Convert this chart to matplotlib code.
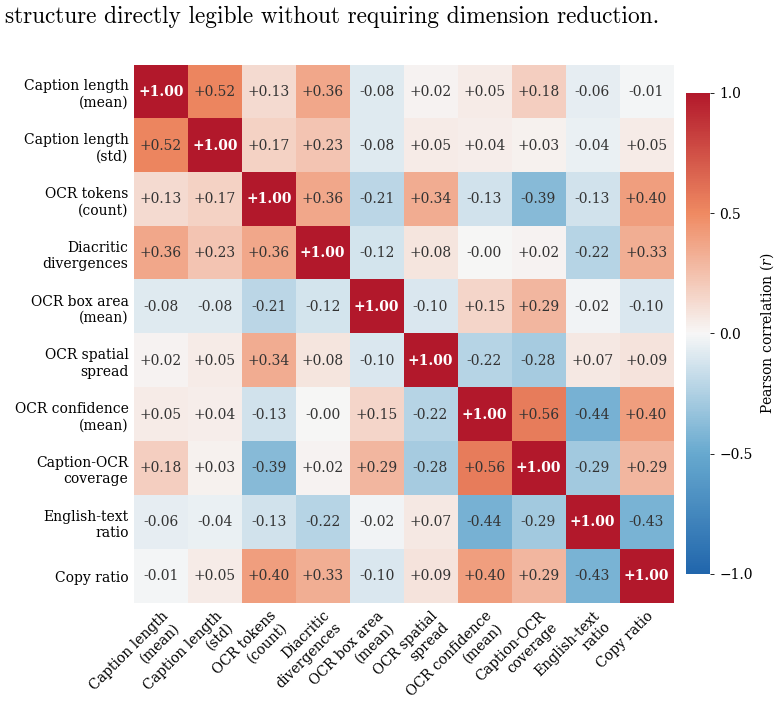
import numpy as np
import matplotlib
matplotlib.use('Agg')
import matplotlib.pyplot as plt
from matplotlib.colors import LinearSegmentedColormap

plt.rcParams['font.family'] = 'DejaVu Serif'
plt.rcParams['mathtext.fontset'] = 'dejavuserif'

#%% Datos
labels = ['Caption length\n(mean)', 'Caption length\n(std)', 'OCR tokens\n(count)',
          'Diacritic\ndivergences', 'OCR box area\n(mean)', 'OCR spatial\nspread',
          'OCR confidence\n(mean)', 'Caption-OCR\ncoverage', 'English-text\nratio', 'Copy ratio']

r0 = [1.00, 0.52, 0.13, 0.36, -0.08, 0.02, 0.05, 0.18, -0.06, -0.01]
r1 = [0.52, 1.00, 0.17, 0.23, -0.08, 0.05, 0.04, 0.03, -0.04, 0.05]
r2 = [0.13, 0.17, 1.00, 0.36, -0.21, 0.34, -0.13, -0.39, -0.13, 0.40]
r3 = [0.36, 0.23, 0.36, 1.00, -0.12, 0.08, -0.00, 0.02, -0.22, 0.33]
r4 = [-0.08, -0.08, -0.21, -0.12, 1.00, -0.10, 0.15, 0.29, -0.02, -0.10]
r5 = [0.02, 0.05, 0.34, 0.08, -0.10, 1.00, -0.22, -0.28, 0.07, 0.09]
r6 = [0.05, 0.04, -0.13, -0.00, 0.15, -0.22, 1.00, 0.56, -0.44, 0.40]
r7 = [0.18, 0.03, -0.39, 0.02, 0.29, -0.28, 0.56, 1.00, -0.29, 0.29]
r8 = [-0.06, -0.04, -0.13, -0.22, -0.02, 0.07, -0.44, -0.29, 1.00, -0.43]
r9 = [-0.01, 0.05, 0.40, 0.33, -0.10, 0.09, 0.40, 0.29, -0.43, 1.00]
corr = np.array([r0, r1, r2, r3, r4, r5, r6, r7, r8, r9])
n = len(labels)

# Mapa de colores divergente
cmap = LinearSegmentedColormap.from_list(
    'rdbu5', ['#2166ac', '#67a9cf', '#f7f7f7', '#ef8a62', '#b2182b'])

#%% Figura
fig = plt.figure(figsize=(7.77, 7.01), dpi=100)
ax = fig.add_axes([0.1725, 0.1398, 0.6937, 0.7675])
cax = fig.add_axes([0.8829, 0.1812, 0.0309, 0.6862])

im = ax.imshow(corr, cmap=cmap, vmin=-1, vmax=1, aspect='auto', interpolation='nearest')

for i in range(n):
    for j in range(n):
        txt = '{:+.2f}'.format(corr[i, j])
        if i == j:
            ax.text(j, i, txt, ha='center', va='center', color='white',
                    fontweight='bold', fontsize=10)
        else:
            ax.text(j, i, txt, ha='center', va='center', color='#333333', fontsize=10)

ax.set_xticks(np.arange(n))
ax.set_yticks(np.arange(n))
ax.set_xticklabels(labels, rotation=45, ha='right', rotation_mode='anchor', fontsize=10)
ax.set_yticklabels(labels, fontsize=10)
ax.tick_params(length=0, pad=4)
for s in ax.spines.values():
    s.set_visible(False)

cb = fig.colorbar(im, cax=cax)
cb.outline.set_visible(False)
cb.set_ticks([-1, -0.5, 0, 0.5, 1])
cb.ax.tick_params(labelsize=10, length=3, width=0.6)
cb.set_label('Pearson correlation ($r$)', fontsize=10)

fig.text(0.006, 0.967, 'structure directly legible without requiring dimension reduction.',
         fontfamily='cmr10', fontsize=16.8, ha='left', va='baseline')

fig.savefig('out.png', dpi=100)
